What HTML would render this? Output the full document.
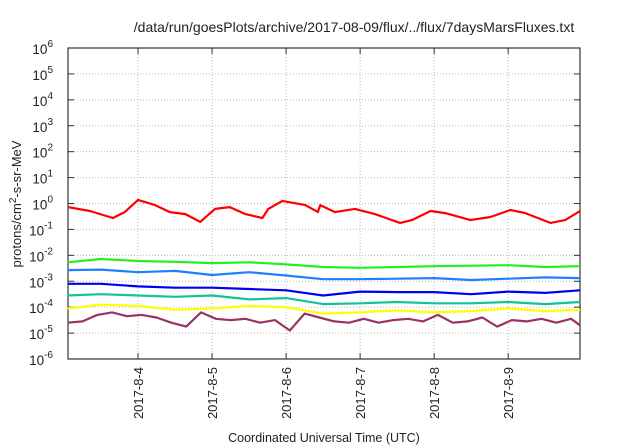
<!DOCTYPE html>
<html><head><meta charset="utf-8"><style>
body{margin:0;background:#fff;}
svg{display:block;font-family:"Liberation Sans",sans-serif;}
</style></head><body>
<svg id="c" width="640" height="448" xmlns="http://www.w3.org/2000/svg"></svg>
<script>
const xTickLabels=["2017-8-4","2017-8-5","2017-8-6","2017-8-7","2017-8-8","2017-8-9"];
const xTickDays=[1,2,3,4,5,6];
const yTickExps=[-6,-5,-4,-3,-2,-1,0,1,2,3,4,5,6];
const seriesColors=["#ff0000","#22ee22","#1e7fff","#0000ee","#11c29a","#ffff00","#993366"];
const redDays=[0.05,0.35,0.66,0.82,1.0,1.23,1.43,1.64,1.84,2.04,2.24,2.45,2.68,2.76,2.95,3.26,3.43,3.46,3.66,3.93,4.2,4.54,4.7,4.95,5.15,5.49,5.76,6.03,6.23,6.57,6.77,6.97];
const redLog=[-0.14,-0.29,-0.56,-0.33,0.14,-0.06,-0.33,-0.41,-0.71,-0.21,-0.14,-0.41,-0.56,-0.21,0.1,-0.06,-0.33,-0.06,-0.33,-0.21,-0.41,-0.75,-0.64,-0.29,-0.37,-0.64,-0.52,-0.25,-0.37,-0.75,-0.64,-0.29];
const gridDays=[0.05,0.5,1,1.5,2,2.5,3,3.5,4,4.5,5,5.5,6,6.5,6.97];
const greenLog=[-2.27,-2.14,-2.22,-2.25,-2.3,-2.27,-2.35,-2.45,-2.48,-2.45,-2.42,-2.4,-2.38,-2.45,-2.42];
const lightBlueLog=[-2.57,-2.55,-2.65,-2.6,-2.76,-2.65,-2.78,-2.92,-2.92,-2.9,-2.88,-2.95,-2.9,-2.85,-2.88];
const blueLog=[-3.1,-3.1,-3.2,-3.25,-3.25,-3.3,-3.35,-3.55,-3.4,-3.42,-3.42,-3.5,-3.4,-3.45,-3.35];
const tealLog=[-3.55,-3.5,-3.55,-3.6,-3.55,-3.7,-3.65,-3.88,-3.85,-3.8,-3.85,-3.85,-3.8,-3.88,-3.8];
const yellowLog=[-4.05,-3.9,-3.95,-4.1,-4.05,-3.95,-4.0,-4.25,-4.2,-4.12,-4.2,-4.15,-4.05,-4.15,-4.1];
const purpleDays=[0.05,0.25,0.45,0.65,0.85,1.05,1.25,1.45,1.65,1.85,2.05,2.25,2.45,2.65,2.85,3.05,3.25,3.45,3.65,3.85,4.05,4.25,4.45,4.65,4.85,5.05,5.25,5.45,5.65,5.85,6.05,6.25,6.45,6.65,6.85,6.97];
const purpleLog=[-4.6,-4.55,-4.3,-4.2,-4.35,-4.3,-4.4,-4.6,-4.75,-4.2,-4.45,-4.5,-4.45,-4.6,-4.5,-4.9,-4.25,-4.4,-4.55,-4.6,-4.45,-4.6,-4.5,-4.45,-4.55,-4.3,-4.6,-4.55,-4.4,-4.75,-4.5,-4.55,-4.45,-4.6,-4.45,-4.7];

const L=68,R=580,T=48,B=359,D0=0.054,D1=6.97;
const X=d=>L+(d-D0)/(D1-D0)*(R-L);
const Y=e=>B-(e+6)/12*(B-T);
const svg=document.getElementById('c');
const NS="http://www.w3.org/2000/svg";
function mk(tag,attrs,parent){const el=document.createElementNS(NS,tag);for(const k in attrs)el.setAttribute(k,attrs[k]);(parent||svg).appendChild(el);return el;}

let t=mk('text',{x:354,y:32,'text-anchor':'middle','font-size':'14',fill:'#222'});
t.textContent="/data/run/goesPlots/archive/2017-08-09/flux/../flux/7daysMarsFluxes.txt";



yTickExps.forEach(e=>{
  const y=Y(e);
  if(e>-6&&e<6){const g=mk('line',{x1:L,x2:R,y1:y,y2:y,stroke:'#bbb','stroke-dasharray':'1,2','stroke-width':1});
  
  }
  mk('line',{x1:L,x2:L+6,y1:y,y2:y,stroke:'#333'});
  mk('line',{x1:R-6,x2:R,y1:y,y2:y,stroke:'#333'});
  const lb=mk('text',{x:53,y:y+6,'text-anchor':'end','font-size':'13.5',fill:'#222'});
  
  
  lb.appendChild(document.createTextNode('10'));
  const s=mk('tspan',{dy:-7,'font-size':'10'},lb);s.textContent=String(e);
});
xTickDays.forEach((d,i)=>{
  const x=X(d);
  const g=mk('line',{x1:x,x2:x,y1:T,y2:B,stroke:'#bbb','stroke-dasharray':'1,2','stroke-width':1});
  
  
  mk('line',{x1:x,x2:x,y1:B,y2:B-6,stroke:'#333'});
  mk('line',{x1:x,x2:x,y1:T,y2:T+6,stroke:'#333'});
  const lb=mk('text',{x:x+5,y:367,'text-anchor':'end','font-size':'13',fill:'#222',transform:`rotate(-90 ${x+5} 367)`});
  lb.textContent=xTickLabels[i];
  
  
});
const fr=mk('rect',{x:L,y:T,width:R-L,height:B-T,fill:'none',stroke:'#333','stroke-width':1.2});



const series=[[purpleDays,purpleLog,6,'series-purple'],[gridDays,yellowLog,5,'series-yellow'],[gridDays,tealLog,4,'series-teal'],[gridDays,blueLog,3,'series-blue'],[gridDays,lightBlueLog,2,'series-light-blue'],[gridDays,greenLog,1,'series-green'],[redDays,redLog,0,'series-red']];
series.forEach(s=>{
  const pts=s[0].map((d,i)=>X(d).toFixed(1)+','+Y(s[1][i]).toFixed(1)).join(' ');
  const p=mk('polyline',{points:pts,fill:'none',stroke:seriesColors[s[2]],'stroke-width':2.2,'stroke-linejoin':'round'});
  
  
});

const yt=mk('text',{x:21,y:204,'text-anchor':'middle','font-size':'13',fill:'#222',transform:'rotate(-90 21 204)'});


yt.appendChild(document.createTextNode('protons/cm'));
const sp=mk('tspan',{dy:-5,'font-size':'10'},yt);sp.textContent='2';
const rest=mk('tspan',{dy:5},yt);rest.textContent='-s-sr-MeV';
const xt=mk('text',{x:324,y:442,'text-anchor':'middle','font-size':'12.5',fill:'#222'});
xt.textContent='Coordinated Universal Time (UTC)';


</script>
</body></html>
